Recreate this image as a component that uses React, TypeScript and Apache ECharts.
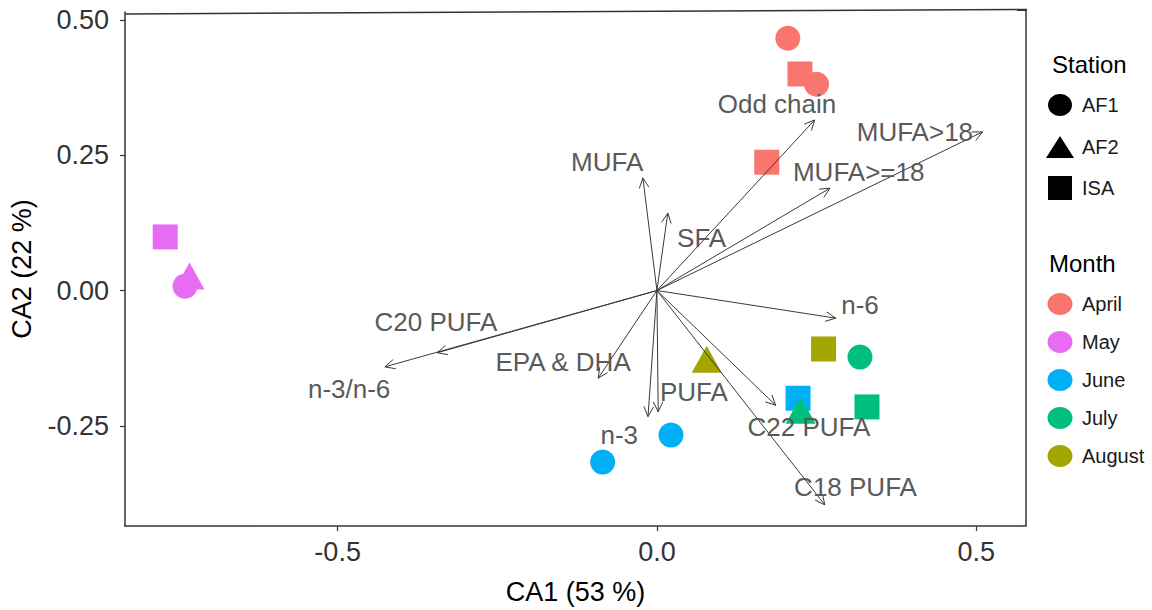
import React, { useEffect, useRef } from "react";
import * as echarts from "echarts";

// ---------- data ----------
const months = ["April", "May", "June", "July", "August"];
const stations = ["AF1", "AF2", "ISA"];

const sampleMonth = ["April", "April", "April", "April", "May", "May", "May", "June", "June", "June", "July", "July", "July", "August", "August"];
const sampleStation = ["AF1", "ISA", "AF1", "ISA", "ISA", "AF2", "AF1", "AF1", "AF1", "ISA", "AF1", "ISA", "AF2", "ISA", "AF2"];
const sampleCA1 = [0.205, 0.224, 0.25, 0.172, -0.77, -0.732, -0.739, -0.085, 0.022, 0.221, 0.318, 0.329, 0.225, 0.261, 0.078];
const sampleCA2 = [0.466, 0.4, 0.381, 0.237, 0.099, 0.027, 0.008, -0.317, -0.267, -0.199, -0.123, -0.215, -0.221, -0.108, -0.127];

const variables = ["Odd chain", "MUFA>18", "MUFA>=18", "MUFA", "SFA", "n-6", "C20 PUFA", "n-3/n-6", "EPA & DHA", "PUFA", "n-3", "C22 PUFA", "C18 PUFA"];
const varCA1 = [0.247, 0.51, 0.271, -0.022, 0.017, 0.28, -0.344, -0.426, -0.092, 0.002, -0.014, 0.186, 0.263];
const varCA2 = [0.315, 0.293, 0.189, 0.208, 0.143, -0.051, -0.115, -0.141, -0.162, -0.224, -0.233, -0.212, -0.396];
const labelCA1 = [0.188, 0.404, 0.316, -0.078, 0.07, 0.318, -0.346, -0.482, -0.147, 0.058, -0.059, 0.238, 0.311];
const labelCA2 = [0.345, 0.293, 0.219, 0.237, 0.097, -0.027, -0.058, -0.182, -0.132, -0.188, -0.267, -0.252, -0.363];

const xTicks = [-0.5, 0, 0.5];
const yTicks = [-0.25, 0, 0.25, 0.5];

// ---------- styles ----------
const FONT = "'Liberation Sans', Arial, sans-serif";
const monthColors: Record<string, string> = {
  April: "#F8766D",
  May: "#E76BF3",
  June: "#00B0F6",
  July: "#00BF7D",
  August: "#A3A500",
};
const stationSymbol: Record<string, string> = { AF1: "circle", AF2: "triangle", ISA: "rect" };
const stationSize: Record<string, any> = { AF1: 25, AF2: [30, 27], ISA: 25 };

export default function App() {
  const ref = useRef<HTMLDivElement>(null);

  useEffect(() => {
    if (!ref.current) return;
    const chart = echarts.init(ref.current, undefined, { renderer: "svg" });

    const pointSeries = months.map((m) => ({
      type: "scatter",
      name: m,
      z: 2,
      silent: true,
      itemStyle: { color: monthColors[m], opacity: 1 },
      data: sampleMonth
        .map((mm, i) => ({ mm, i }))
        .filter((d) => d.mm === m)
        .map(({ i }) => ({
          value: [sampleCA1[i], sampleCA2[i]],
          symbol: stationSymbol[sampleStation[i]],
          symbolSize: stationSize[sampleStation[i]],
        })),
    }));

    const arrowSeries = {
      type: "custom",
      coordinateSystem: "cartesian2d",
      z: 5,
      silent: true,
      clip: false,
      data: variables.map((_, i) => [varCA1[i], varCA2[i]]),
      renderItem: (params: any, api: any) => {
        const o = api.coord([0, 0]);
        const e = api.coord([api.value(0), api.value(1)]);
        const a = Math.atan2(e[1] - o[1], e[0] - o[0]);
        const L = 11;
        const phi = Math.PI / 7;
        const p1 = [e[0] - L * Math.cos(a - phi), e[1] - L * Math.sin(a - phi)];
        const p2 = [e[0] - L * Math.cos(a + phi), e[1] - L * Math.sin(a + phi)];
        return {
          type: "group",
          children: [
            { type: "line", shape: { x1: o[0], y1: o[1], x2: e[0], y2: e[1] }, style: { stroke: "#3a3a3a", lineWidth: 1 } },
            { type: "polyline", shape: { points: [p1, e, p2] }, style: { stroke: "#3a3a3a", lineWidth: 1, fill: "none" } },
          ],
        };
      },
    };

    const labelSeries = {
      type: "custom",
      coordinateSystem: "cartesian2d",
      z: 6,
      silent: true,
      clip: false,
      data: variables.map((_, i) => [labelCA1[i], labelCA2[i]]),
      renderItem: (params: any, api: any) => {
        const p = api.coord([api.value(0), api.value(1)]);
        return {
          type: "text",
          x: p[0],
          y: p[1],
          style: {
            text: variables[params.dataIndex],
            fill: "#5a5a5a",
            fontSize: 26,
            fontFamily: FONT,
            align: "center",
            verticalAlign: "middle",
          },
        };
      },
    };

    const legendGraphics: any[] = [];
    legendGraphics.push({ type: "text", left: 1052, top: 52, style: { text: "Station", fontSize: 24, fontFamily: FONT, fill: "#000" } });
    const stationY = [105, 147, 188];
    stations.forEach((s, i) => {
      const cy = stationY[i];
      if (s === "AF1") legendGraphics.push({ type: "ellipse", shape: { cx: 1060, cy, rx: 12, ry: 11 }, style: { fill: "#000" } });
      if (s === "AF2") legendGraphics.push({ type: "polygon", shape: { points: [[1046, cy + 11], [1074, cy + 11], [1060, cy - 11]] }, style: { fill: "#000" } });
      if (s === "ISA") legendGraphics.push({ type: "rect", shape: { x: 1048, y: cy - 12, width: 24, height: 24 }, style: { fill: "#000" } });
      legendGraphics.push({ type: "text", x: 1082, y: cy, style: { text: s, fontSize: 20, fontFamily: FONT, fill: "#1a1a1a", verticalAlign: "middle" } });
    });
    legendGraphics.push({ type: "text", left: 1049, top: 251, style: { text: "Month", fontSize: 24, fontFamily: FONT, fill: "#000" } });
    months.forEach((m, i) => {
      const cy = 304 + i * 38;
      legendGraphics.push({ type: "ellipse", shape: { cx: 1060, cy, rx: 12.5, ry: 11 }, style: { fill: monthColors[m] } });
      legendGraphics.push({ type: "text", x: 1082, y: cy, style: { text: m, fontSize: 20, fontFamily: FONT, fill: "#1a1a1a", verticalAlign: "middle" } });
    });

    chart.setOption({
      animation: false,
      backgroundColor: "#fff",
      grid: { left: 125, top: 12, width: 901, height: 514, containLabel: false },
      xAxis: {
        type: "value",
        min: -0.833,
        max: 0.578,
        splitLine: { show: false },
        axisLine: { show: true, onZero: false, lineStyle: { color: "#333", width: 1.5 } },
        axisTick: { show: true, customValues: xTicks, length: 5, lineStyle: { color: "#333", width: 1.2 } },
        axisLabel: { customValues: xTicks, formatter: (v: number) => v.toFixed(1), fontSize: 27, color: "#333", margin: 12, fontFamily: FONT },
        name: "CA1 (53 %)",
        nameLocation: "middle",
        nameGap: 52,
        nameTextStyle: { fontSize: 27, color: "#000", fontFamily: FONT },
      },
      yAxis: {
        type: "value",
        min: -0.435,
        max: 0.5145,
        splitLine: { show: false },
        axisLine: { show: true, onZero: false, lineStyle: { color: "#333", width: 1.5 } },
        axisTick: { show: true, customValues: yTicks, length: 5, lineStyle: { color: "#333", width: 1.2 } },
        axisLabel: { customValues: yTicks, formatter: (v: number) => v.toFixed(2), fontSize: 27, color: "#333", margin: 16, fontFamily: FONT },
        name: "CA2 (22 %)",
        nameLocation: "middle",
        nameGap: 90,
        nameRotate: 90,
        nameTextStyle: { fontSize: 27, color: "#000", fontFamily: FONT },
      },
      graphic: [
        { type: "line", shape: { x1: 125, y1: 14, x2: 1027, y2: 9.5 }, style: { stroke: "#333", lineWidth: 1.5 } },
        { type: "line", shape: { x1: 1026, y1: 9, x2: 1026, y2: 526 }, style: { stroke: "#333", lineWidth: 1.5 } },
        ...legendGraphics,
      ],
      series: [...pointSeries, arrowSeries, labelSeries],
    } as any);

    return () => chart.dispose();
  }, []);

  return (
    <div
      ref={ref}
      style={{ position: "fixed", left: 0, top: 0, width: 1152, height: 610, background: "#fff" }}
    />
  );
}
